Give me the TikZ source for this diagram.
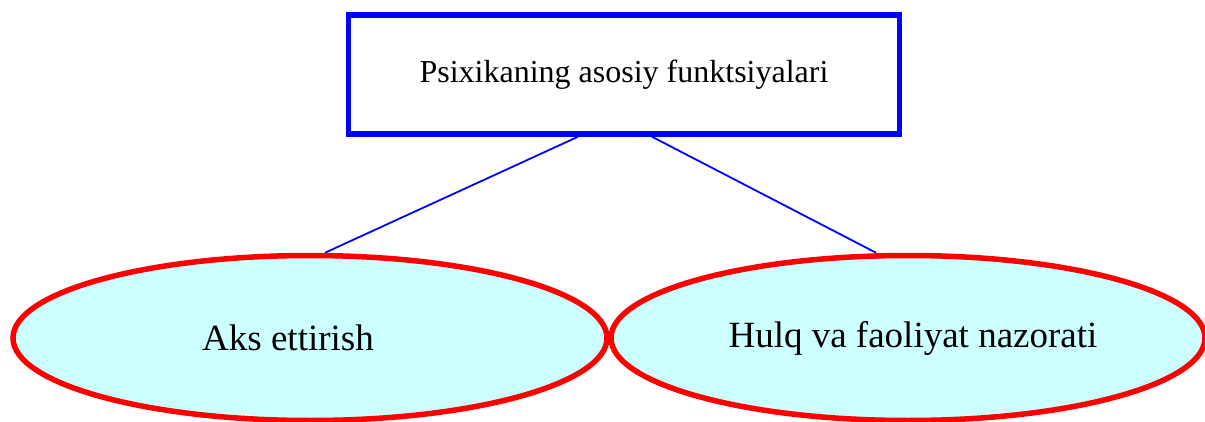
\documentclass[tikz,border=0pt]{standalone}
\usepackage{fontspec}
\setmainfont{Liberation Serif}
\usetikzlibrary{shapes.geometric}
\definecolor{fillc}{HTML}{CCFFFF}
\tikzset{
  topbox/.style={draw=blue, line width=5.5pt, minimum width=551pt, minimum height=119pt, inner sep=0pt, font=\fontsize{32}{38}\selectfont},
  oval/.style={ellipse, draw=red, fill=fillc, line width=5.5pt, minimum width=594pt, minimum height=165pt, inner sep=0pt, font=\fontsize{37}{44}\selectfont},
  link/.style={draw=blue, line width=1.8pt}
}
\begin{document}
\begin{tikzpicture}[x=1pt,y=1pt]
\useasboundingbox (0,0) rectangle (1205,421);
\node[topbox] (top) at (624,346.5) {Psixikaning asosiy funktsiyalari};
\node[oval] (a) at (310,83) {\hspace*{-44pt}Aks ettirish};
\node[oval] (b) at (908,83) {\hspace*{10pt}Hulq va faoliyat nazorati};
\draw[link] ([xshift=-46pt]top.south) -- (a.north -| 325,0);
\draw[link] ([xshift=28pt]top.south) -- (b.north -| 876,0);
\end{tikzpicture}
\end{document}
